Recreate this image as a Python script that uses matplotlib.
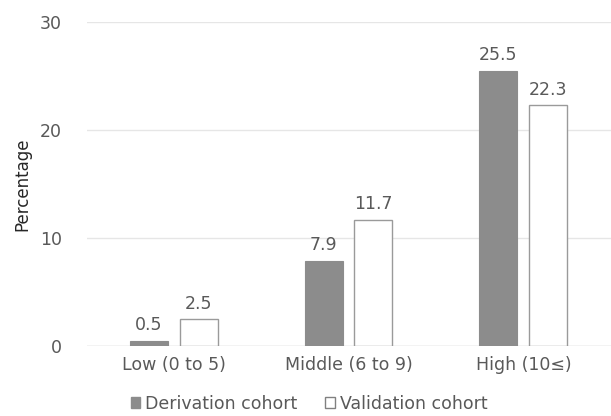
import numpy as np
import matplotlib.pyplot as plt
from matplotlib.patches import Patch

plt.rcParams['font.family'] = ['DejaVu Sans']

# data
categories = ["Low (0 to 5)", "Middle (6 to 9)", "High (10≤)"]
derivation = [0.5, 7.9, 25.5]
validation = [2.5, 11.7, 22.3]

fig = plt.figure(figsize=(6.11, 4.16), dpi=100)
ax = fig.add_axes([0.142, 0.168, 0.858, 0.779])

x = np.arange(len(categories))
w = 0.217
dark = "#8c8c8c"
txt = "#595959"

b1 = ax.bar(x - 0.145, derivation, w, color=dark, edgecolor=dark, linewidth=0.8, zorder=3)
b2 = ax.bar(x + 0.14, validation, w, color="white", edgecolor="#9a9a9a", linewidth=1.0, zorder=3)

for bars, vals in [(b1, derivation), (b2, validation)]:
    for r, v in zip(bars, vals):
        ax.text(r.get_x() + r.get_width() / 2, v + 0.6, f"{v:.1f}",
                ha="center", va="bottom", fontsize=12.5, color=txt)

ax.set_xlim(-0.5, 2.5)
ax.set_ylim(0, 30)
ax.set_yticks([0, 10, 20, 30])
ax.set_xticks(x)
ax.set_xticklabels(categories)
ax.tick_params(axis="both", length=0, labelsize=12.5, labelcolor=txt)
ax.tick_params(axis="y", pad=18)
ax.tick_params(axis="x", pad=7)
ax.yaxis.grid(True, color="#e6e6e6", linewidth=1.0, zorder=0)
for s in ax.spines.values():
    s.set_visible(False)
ax.axhline(0, color="#d9d9d9", linewidth=1.0, zorder=2)
ax.set_ylabel("Percentage", fontsize=12, color="#262626", labelpad=6)

handles = [Patch(facecolor=dark, edgecolor=dark, label="Derivation cohort"),
           Patch(facecolor="white", edgecolor="#808080", label="Validation cohort")]
fig.legend(handles=handles, loc="center", bbox_to_anchor=(0.506, 0.03), ncol=2,
           frameon=False, fontsize=12.5, labelcolor=txt, handlelength=0.55,
           handleheight=0.55, handletextpad=0.3, columnspacing=1.6)

fig.savefig("out.png", dpi=100)
